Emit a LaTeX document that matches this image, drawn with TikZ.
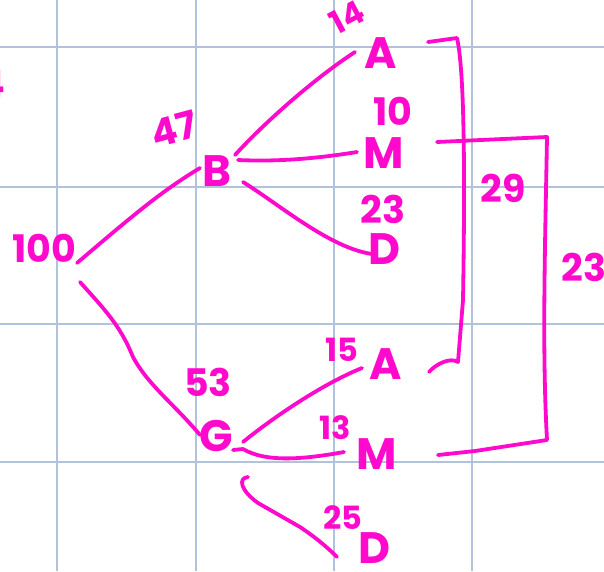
\documentclass[tikz,border=0pt]{standalone}
\usepackage{fontspec}
\setmainfont{Poppins}
\definecolor{ink}{RGB}{255,10,205}
\definecolor{gridc}{RGB}{178,194,218}
\tikzset{
  pen/.style={draw=ink, line width=3.8pt, line cap=round, line join=round},
  gridline/.style={draw=gridc, line width=1.3pt},
  letter/.style={text=ink, inner sep=0pt, font=\fontsize{44}{44}\selectfont\bfseries},
  num/.style={text=ink, inner sep=0pt, font=\fontsize{38}{38}\selectfont\bfseries},
  smallnum/.style={text=ink, inner sep=0pt, font=\fontsize{32}{32}\selectfont\bfseries},
}
\begin{document}
\begin{tikzpicture}[x=1pt,y=-1pt]
\path[use as bounding box, fill=white] (0,0) rectangle (604,571);
% grid
\foreach \gx in {57,196,334,472} \draw[gridline] (\gx,0) -- (\gx,571);
\foreach \gy in {47,187,324,462} \draw[gridline] (0,\gy) -- (604,\gy);
% labels
\node[num] (frag) at (-8,84) {4};
\node[num] (root) at (44,248) {100};
\node[num, rotate=15] (n47) at (174,129) {47};
\node[letter] (B) at (217,171) {B};
\node[smallnum, rotate=28] (n14) at (347,17) {14};
\node[letter] (A1) at (381,53) {A};
\node[num] (n10) at (393,111) {10};
\node[letter] (M1) at (384,153) {M};
\node[num] (n23a) at (383,209) {23};
\node[letter] (D1) at (384,249) {D};
\node[num] (n29) at (503,188) {29};
\node[num] (n23b) at (584,267) {23};
\node[num] (n53) at (208,382) {53};
\node[letter] (G) at (216,436) {G};
\node[smallnum] (n15) at (342,350) {15};
\node[letter] (A2) at (386,364) {A};
\node[smallnum] (n13) at (335,428) {13};
\node[letter] (M2) at (377,454) {M};
\node[smallnum] (n25) at (343,518) {25};
\node[letter] (D2) at (374,548) {D};
% connector end points
\coordinate (rB) at (77,263);
\coordinate (rG) at (80,282);
\coordinate (Bi) at (200,168);
\coordinate (Gi) at (200,435);
\coordinate (Ba) at (235,155);
\coordinate (Bm) at (238,160);
\coordinate (Bd) at (243,182);
\coordinate (A1i) at (355,52);
\coordinate (M1i) at (357,152);
\coordinate (D1i) at (372,254);
\coordinate (Ga) at (243,442);
\coordinate (Gm) at (233,450);
\coordinate (Gd) at (248,477);
\coordinate (A2i) at (362,368);
\coordinate (M2i) at (344,452);
\coordinate (D2i) at (337,557);
% tree connectors
\draw[pen] (rB) .. controls (130,218) and (160,192) .. (Bi);
\draw[pen] (rG) .. controls (105,310) and (120,325) .. (133,357) .. controls (148,385) and (175,405) .. (Gi);
\draw[pen] (Ba) .. controls (265,122) and (315,78) .. (A1i);
\draw[pen] (Bm) .. controls (280,162) and (320,158) .. (M1i);
\draw[pen] (Bd) .. controls (280,205) and (330,248) .. (D1i);
\draw[pen] (Ga) .. controls (270,420) and (320,385) .. (A2i);
\draw[pen] (Gm) -- (243,449) .. controls (265,462) and (300,460) .. (M2i);
\draw[pen] (Gd) .. controls (238,478) and (240,490) .. (258,503) -- (300,527) .. controls (315,537) and (327,547) .. (D2i);
% brackets
\coordinate (b1s) at (428,42);
\coordinate (b1e) at (429,372);
\coordinate (b2s) at (437,142);
\coordinate (b2e) at (438,455);
\draw[pen] (b1s) -- (457,38) .. controls (462,60) and (466,120) .. (463,300) -- (458,362) .. controls (450,357) and (436,364) .. (b1e);
\draw[pen] (b2s) -- (547,137) .. controls (545,250) and (542,350) .. (547,440) -- (475,451) -- (b2e);
\end{tikzpicture}
\end{document}
